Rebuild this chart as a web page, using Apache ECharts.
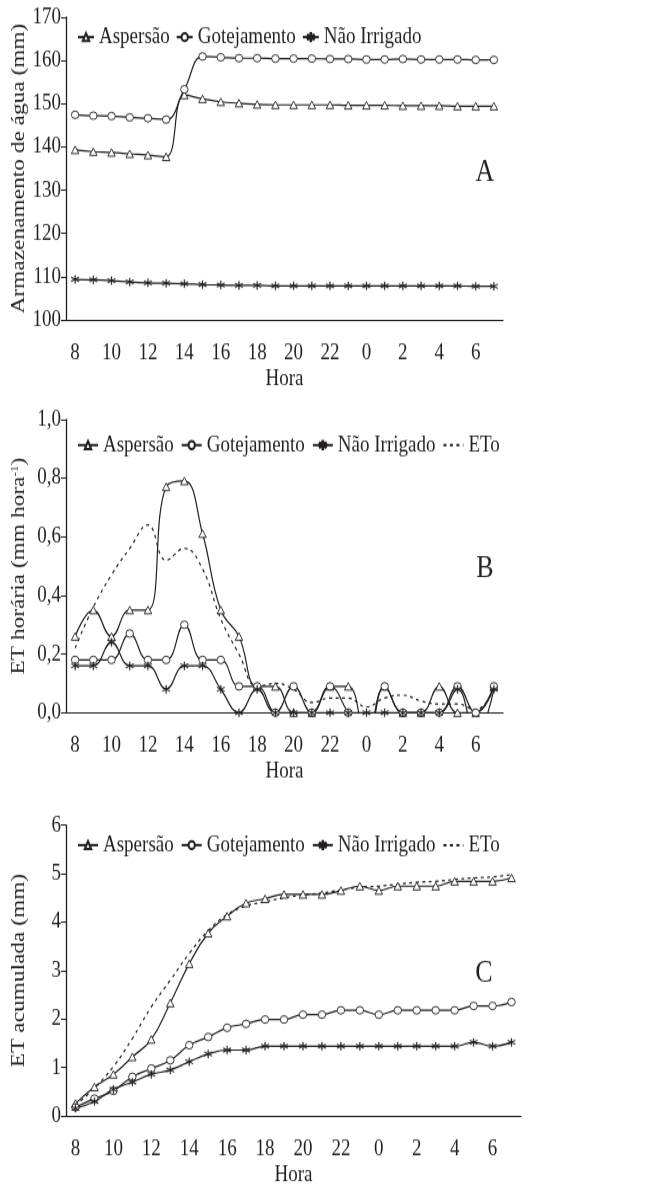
<!DOCTYPE html>
<html>
<head>
<meta charset="utf-8">
<script src="https://cdn.jsdelivr.net/npm/echarts@6/dist/echarts.min.js"></script>
<style>
  html, body { margin: 0; padding: 0; background: #fff; }
  #wrap { width: 659px; height: 1186px; position: relative; }
  /* a figura original e esticada na vertical */
  #chart { position: absolute; left: 0; top: 0; width: 659px; height: 964px; transform: scaleY(1.2303); transform-origin: 0 0; }
</style>
</head>
<body>
<div id="wrap"><div id="chart"></div></div>
<script>
// horas do dia (8h ate 7h do dia seguinte)
const horas = ['8','9','10','11','12','13','14','15','16','17','18','19','20','21','22','23','0','1','2','3','4','5','6','7'];

// A - armazenamento de agua (mm)
const armAspersao = [139.3,138.9,138.7,138.4,138.1,137.7,152.0,151.1,150.4,150.1,149.8,149.7,149.7,149.7,149.7,149.6,149.6,149.6,149.5,149.5,149.5,149.4,149.4,149.4];
const armGotejamento = [147.4,147.2,147.1,146.8,146.6,146.3,153.3,160.9,160.7,160.5,160.5,160.4,160.4,160.4,160.3,160.3,160.2,160.2,160.3,160.2,160.2,160.2,160.1,160.1];
const armNaoIrrigado = [109.4,109.3,109.1,108.8,108.6,108.5,108.4,108.2,108.1,108.0,108.0,107.9,107.9,107.9,107.9,107.9,107.9,107.9,107.9,107.9,107.9,107.9,107.8,107.8];

// B - ET horaria (mm hora-1)
const etAspersao = [0.26,0.35,0.26,0.35,0.35,0.77,0.79,0.61,0.35,0.26,0.09,0.09,0,0,0.09,0.09,-0.09,0.09,0,0,0.09,0,0,0.09];
const etGotejamento = [0.18,0.18,0.18,0.27,0.18,0.18,0.30,0.18,0.18,0.09,0.09,0,0.09,0,0.09,0,-0.09,0.09,0,0,0,0.09,0,0.09];
const etNaoIrrigado = [0.16,0.16,0.24,0.16,0.16,0.08,0.16,0.16,0.08,0,0.08,0,0,0,0,0,0,0,0,0,0,0.08,-0.08,0.08];
const etEto = [0.22,0.36,0.47,0.56,0.64,0.52,0.56,0.49,0.32,0.20,0.09,0.10,0.08,0.035,0.05,0.05,0.02,0.05,0.06,0.04,0.03,0.03,0.01,0.08];

// C - ET acumulada (mm)
const acAspersao = [0.26,0.60,0.86,1.22,1.58,2.33,3.14,3.77,4.12,4.39,4.48,4.57,4.57,4.57,4.65,4.74,4.65,4.74,4.74,4.74,4.84,4.84,4.84,4.91];
const acGotejamento = [0.18,0.36,0.52,0.81,0.98,1.15,1.46,1.63,1.82,1.90,1.99,1.99,2.09,2.09,2.18,2.18,2.09,2.18,2.18,2.18,2.18,2.27,2.27,2.35];
const acNaoIrrigado = [0.16,0.30,0.55,0.70,0.86,0.95,1.12,1.28,1.36,1.36,1.44,1.44,1.44,1.44,1.44,1.44,1.44,1.44,1.44,1.44,1.44,1.52,1.44,1.52];
const acEto = [0.22,0.58,1.02,1.60,2.25,2.80,3.35,3.82,4.15,4.33,4.42,4.50,4.56,4.60,4.66,4.72,4.74,4.78,4.82,4.84,4.88,4.91,4.93,4.98];

const K = 1186 / 964; // fator do esticamento vertical
const cor = '#231f20';
const fonte = '"Liberation Serif", "Times New Roman", serif';
// asterisco de 6 pontas
const asterisco = 'path://M9,0L11,0L11,20L9,20Z M0.84,5.87L1.84,4.13L19.16,14.13L18.16,15.87Z M1.84,15.87L0.84,14.13L18.16,4.13L19.16,5.87Z';

function serie(nome, dados, idx, simbolo) {
    const ast = simbolo === asterisco;
    return {
        name: nome, type: 'line', xAxisIndex: idx, yAxisIndex: idx, data: dados,
        smooth: 0.45, symbol: simbolo, symbolSize: ast ? [8, 8 / K] : [7.5, 7.5 / K], showSymbol: true,
        lineStyle: { color: cor, width: 1.2 },
        itemStyle: { color: ast ? cor : '#fff', borderColor: cor, borderWidth: ast ? 0.3 : 0.9 },
        emphasis: { disabled: true }, z: 3
    };
}
function serieEto(dados, idx) {
    return {
        name: 'ETo', type: 'line', xAxisIndex: idx, yAxisIndex: idx, data: dados,
        smooth: 0.45, symbol: 'none',
        lineStyle: { color: cor, width: 1.2, type: [3, 3.5] },
        itemStyle: { color: cor },
        emphasis: { disabled: true }, z: 2
    };
}
function eixoX(idx) {
    return {
        type: 'category', gridIndex: idx, data: horas,
        name: 'Hora', nameLocation: 'middle', nameGap: 38,
        nameTextStyle: { color: cor, fontSize: 19, fontFamily: fonte },
        axisLine: { lineStyle: { color: cor, width: 1.1 } },
        axisTick: { interval: 0, length: 6, lineStyle: { color: cor, width: 1 } },
        axisLabel: { interval: 1, margin: 17, color: cor, fontSize: 19, fontFamily: fonte },
        splitLine: { show: false }
    };
}
function eixoY(idx, min, max, passo, nome, fmt, rich) {
    return {
        type: 'value', gridIndex: idx, min: min, max: max, interval: passo,
        name: nome, nameLocation: 'middle', nameGap: 37, nameMoveOverlap: false,
        nameTextStyle: { color: cor, fontSize: 19, fontFamily: fonte, rich: rich },
        axisLine: { show: true, lineStyle: { color: cor, width: 1.3 } },
        axisTick: { show: true, length: 5, lineStyle: { color: cor, width: 1 } },
        axisLabel: { margin: 5, color: cor, fontSize: 19, fontFamily: fonte, formatter: fmt },
        splitLine: { show: false }
    };
}
function legenda(centro, itens, larg, gap) {
    return {
        top: centro / K - 12, left: 72, itemWidth: larg, itemHeight: 8, itemGap: gap,
        data: itens.map(n => n === 'ETo' ? { name: n, itemStyle: { opacity: 0 } } : n),
        textStyle: { color: cor, fontSize: 19, fontFamily: fonte },
        selectedMode: false
    };
}
function letra(txt, x, y) {
    return { type: 'text', x: x, y: y / K, style: { text: txt, font: '26px ' + fonte, fill: cor, align: 'center', verticalAlign: 'middle' } };
}

const virgula = v => v.toFixed(1).replace('.', ',');
const nomes3 = ['Aspersão', 'Gotejamento', 'Não Irrigado'];
const nomes4 = ['Aspersão', 'Gotejamento', 'Não Irrigado', 'ETo'];

const chart = echarts.init(document.getElementById('chart'), null, { renderer: 'canvas' });
chart.setOption({
    backgroundColor: '#fff',
    animation: false,
    grid: [
        { left: 66, top: 17 / K, width: 437, height: 303 / K, outerBoundsMode: 'none', containLabel: false },
        { left: 66, top: 419.3 / K, width: 437, height: 293.4 / K, outerBoundsMode: 'none', containLabel: false },
        { left: 66, top: 825 / K, width: 455, height: 291 / K, outerBoundsMode: 'none', containLabel: false }
    ],
    legend: [legenda(34, nomes3, 16, 6), legenda(442, nomes4, 20, 7), legenda(842, nomes4, 20, 7)],
    xAxis: [eixoX(0), eixoX(1), eixoX(2)],
    yAxis: [
        eixoY(0, 100, 170, 10, 'Armazenamento de água (mm)', null),
        eixoY(1, 0, 1, 0.2, '{t|ET horária (mm hora}{s|-1}{t|)}', virgula,
            { t: { fontSize: 19, fontFamily: fonte, color: cor }, s: { fontSize: 11, fontFamily: fonte, color: cor, padding: [0, 0, 8, 0] } }),
        eixoY(2, 0, 6, 1, 'ET acumulada (mm)', null)
    ],
    graphic: [letra('A', 485, 172), letra('B', 485, 568), letra('C', 484, 973)],
    series: [
        serie('Aspersão', armAspersao, 0, 'triangle'),
        serie('Gotejamento', armGotejamento, 0, 'circle'),
        serie('Não Irrigado', armNaoIrrigado, 0, asterisco),
        serie('Aspersão', etAspersao, 1, 'triangle'),
        serie('Gotejamento', etGotejamento, 1, 'circle'),
        serie('Não Irrigado', etNaoIrrigado, 1, asterisco),
        serieEto(etEto, 1),
        serie('Aspersão', acAspersao, 2, 'triangle'),
        serie('Gotejamento', acGotejamento, 2, 'circle'),
        serie('Não Irrigado', acNaoIrrigado, 2, asterisco),
        serieEto(acEto, 2)
    ]
});
</script>
</body>
</html>
